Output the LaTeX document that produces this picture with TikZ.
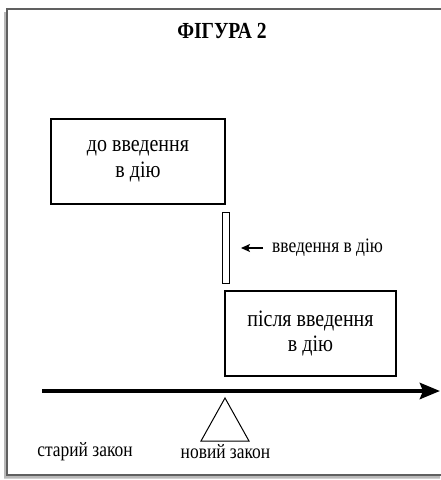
\documentclass[tikz,border=0pt]{standalone}
\usepackage{fontspec}
\setmainfont{Liberation Serif}
\newfontfamily\condser[FakeStretch=0.85]{Liberation Serif}
\usetikzlibrary{arrows.meta}
\begin{document}
\begin{tikzpicture}[x=1pt,y=-1pt,
  box/.style={draw=black,line width=1.1pt,minimum width=#1,minimum height=85pt,inner sep=0pt,align=center,font=\condser\fontsize{23.5}{26}\selectfont},
  lbl/.style={font=\condser\fontsize{20.5}{22}\selectfont,inner sep=0pt},
  ttl/.style={font=\condser\bfseries\fontsize{23}{26}\selectfont,inner sep=0pt},
  framel/.style={draw=gray!75!black,line width=1.6pt}]
\useasboundingbox (0,0) rectangle (440,480);
% frame with shadow (right side lies outside the picture)
\fill[gray!55] (4,12) -- (4,478.5) -- (440,478.5) -- (440,475) -- (7,475) -- (7,12) -- cycle;
\coordinate (fTL) at (7,9);
\coordinate (fTR) at (440,9);
\coordinate (fBL) at (7,475);
\coordinate (fBR) at (440,475);
\draw[framel,line cap=rect] (fTR) -- (fTL) -- (fBL) -- (fBR);
% title
\node[ttl] (title) at (222,31) {ФІГУРА 2};
% boxes
\node[box=174pt] (before) at (138,161.5) {до введення\\в дію};
\node[box=171pt] (after) at (310.5,333.5) {\raisebox{-9pt}{\shortstack{після введення\\[1pt]в дію}}};
\node[draw=black,line width=0.9pt,minimum width=7pt,minimum height=71pt,inner sep=0pt] (bar) at (225.5,247.5) {};
% label with arrow
\node[lbl,anchor=west] (intro) at (272,248) {введення в дію};
\coordinate (ahead) at (241,248);
\coordinate (atail) at (263,248);
\draw[line width=1.3pt,-{Stealth[length=9pt,width=8pt,inset=2pt]}] (atail) -- (ahead);
% time axis
\coordinate (axs) at (42,391);
\coordinate (axe) at (440,391);
\draw[line width=4.5pt,-{Stealth[length=20pt,width=16pt,inset=3pt]}] (axs) -- (axe);
% triangle
\coordinate (tA) at (225,398);
\coordinate (tB) at (249,441);
\coordinate (tC) at (201,441);
\draw[line width=1pt,line join=miter] (tA) -- (tB) -- (tC) -- cycle;
% bottom labels
\node[lbl] (old) at (85,452) {старий закон};
\node[lbl] (new) at (225.5,452) {новий закон};
\end{tikzpicture}
\end{document}
